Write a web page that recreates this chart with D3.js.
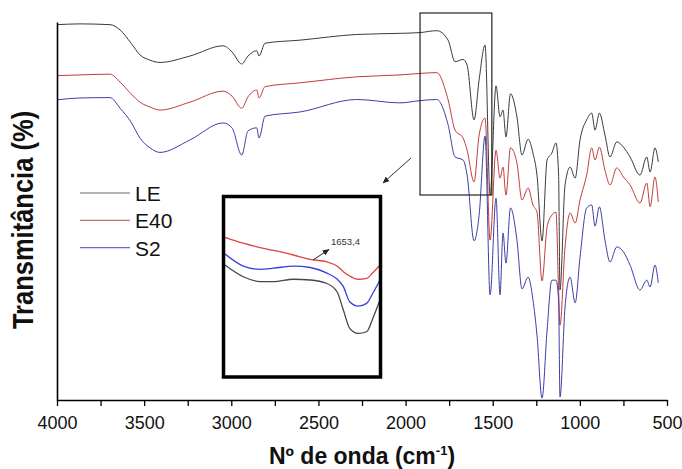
<!DOCTYPE html>
<html>
<head>
<meta charset="utf-8">
<script src="https://cdn.jsdelivr.net/npm/d3@7"></script>
<style>
  body { margin: 0; background: #fff; }
  svg { display: block; font-family: "Liberation Sans", Arial, sans-serif; }
</style>
</head>
<body>
<svg id="chart"></svg>
<script>
// ---- data ----
var wavenumber = [4000,3868,3696,3638,3575,3524,3466,3409,3237,3047,2996,2940,2904,2854,2841,2806,2606,2280,2032,1917,1821,1756,1716,1670,1647,1607,1578,1544,1515,1481,1458,1441,1424,1398,1361,1332,1297,1269,1246,1217,1188,1161,1137,1122,1114,1085,1056,1027,999,961,932,913,888,856,827,788,750,712,655,616,597,569,550];

var LE  = [99.3,99.5,99.3,97.9,94.4,91.3,89.9,89.3,91.0,93.7,92.1,88.9,91.0,92.4,91.0,94.4,95.2,96.7,97.0,97.2,97.7,95.2,89.5,90.1,88.6,74.1,84.7,93.9,54.2,83.1,74.9,76.7,69.6,81.0,74.9,64.8,69.0,65.3,59.5,42.1,63.5,65.3,68.0,59.5,29.1,56.9,61.6,58.7,68.8,74.1,75.9,71.4,75.9,70.1,64.3,68.3,66.9,64.3,59.5,64.3,60.3,66.7,63.0];

var E40 = [85.8,86.0,86.2,84.1,81.0,78.8,77.5,76.7,78.8,81.7,80.4,77.2,80.2,82.0,79.9,82.9,83.9,85.5,86.0,86.4,86.6,79.4,71.4,69.3,66.1,57.7,70.1,74.6,42.3,66.1,58.7,61.6,54.2,66.7,62.7,52.9,56.1,51.6,49.7,31.5,45.8,48.9,49.7,29.1,19.8,40.5,49.5,46.8,52.9,59.5,66.7,63.5,66.9,60.8,56.9,61.4,59.0,56.9,52.1,57.4,51.1,59.0,52.4];

var S2  = [79.4,79.9,80.0,77.2,73.5,69.3,66.7,65.5,68.8,73.3,72.0,64.8,71.2,72.0,69.3,75.1,76.2,79.5,78.6,79.2,79.5,72.8,64.3,63.5,59.5,42.1,48.9,69.8,27.8,53.4,27.8,44.2,36.2,50.8,42.3,29.4,32.5,26.5,17.2,0.5,18.5,31.7,31.7,26.5,0.8,24.6,32.5,25.7,37.8,50.8,51.6,46.0,51.1,42.3,36.5,40.5,39.2,35.7,29.1,31.7,29.9,35.7,31.0];

// zoomed region shown in the inset
var insetWave = [1780,1754,1730,1711,1683,1659,1636,1621,1612,1603,1591,1579,1570,1560];
var insetLE   = [61.9,55.4,52.7,52.7,54.0,53.6,51.8,47.1,37.0,26.9,24.1,25.0,32.6,42.5];
var insetE40  = [77.2,73.9,71.5,69.9,67.4,65.0,63.7,61.3,58.2,55.8,54.0,54.5,57.7,61.9];
var insetS2   = [68.0,61.3,59.5,60.1,61.3,60.5,57.5,54.1,49.9,41.6,39.2,40.7,46.4,53.6];

var seriesNames = ["LE", "E40", "S2"];
var xTickValues = [4000,3750,3500,3250,3000,2750,2500,2250,2000,1750,1500,1250,1000,750,500];
var peakLabel = "1653,4";

// ---- layout ----
var width = 682, height = 469;
var colors = {LE: "#3a3a3a", E40: "#c23b3b", S2: "#3d3da6"};
var insetColors = {LE: "#474747", E40: "#e04343", S2: "#3b3be0"};
var legendColors = {LE: "#9a9a9a", E40: "#d36a6a", S2: "#6a6ab8"};

var svg = d3.select("#chart")
            .attr("width", width)
            .attr("height", height);

var x = d3.scaleLinear().domain([4000, 500]).range([57, 667]);
var y = d3.scaleLinear().domain([0, 100]).range([400, 22]);

var defs = svg.append("defs");
defs.append("marker")
    .attr("id", "arrow")
    .attr("viewBox", "0 0 10 10")
    .attr("refX", 9).attr("refY", 5)
    .attr("markerWidth", 7).attr("markerHeight", 7)
    .attr("markerUnits", "userSpaceOnUse")
    .attr("orient", "auto")
  .append("path")
    .attr("d", "M0,1 L10,5 L0,9 Z")
    .attr("fill", "#222");

// ---- spectra ----
var line = d3.line()
             .x(function(d){ return x(d[0]); })
             .y(function(d){ return y(d[1]); })
             .curve(d3.curveMonotoneX);

var series = {LE: LE, E40: E40, S2: S2};
seriesNames.forEach(function(name){
  svg.append("path")
     .datum(d3.zip(wavenumber, series[name]))
     .attr("fill", "none")
     .attr("stroke", colors[name])
     .attr("stroke-width", 1)
     .attr("d", line);
});

// ---- axes ----
var xAxis = svg.append("g")
   .attr("transform", "translate(0," + y(0) + ")")
   .call(d3.axisBottom(x)
           .tickValues(xTickValues)
           .tickSize(6)
           .tickSizeOuter(0)
           .tickFormat(function(d){ return d % 500 === 0 ? d : ""; }));
xAxis.select(".domain").attr("stroke-width", 1.6);
xAxis.selectAll(".tick line").attr("stroke-width", 1.3);
xAxis.selectAll(".tick text")
     .attr("y", 16)
     .attr("font-size", 18)
     .attr("font-family", "Liberation Sans, Arial, sans-serif")
     .attr("fill", "#111");

var yAxis = svg.append("g")
   .attr("transform", "translate(" + x(4000) + ",0)")
   .call(d3.axisLeft(y).tickValues([]).tickSizeOuter(0));
yAxis.select(".domain").attr("stroke-width", 1.6);

// axis titles
var xTitle = svg.append("text")
   .attr("x", 362).attr("y", 464)
   .attr("text-anchor", "middle")
   .attr("font-size", 23)
   .attr("font-weight", "bold")
   .attr("fill", "#111");
xTitle.append("tspan").text("Nº de onda (cm");
xTitle.append("tspan").attr("font-size", 13).attr("dy", -9).text("-1");
xTitle.append("tspan").attr("dy", 9).text(")");

svg.append("text")
   .attr("transform", "translate(33,220) rotate(-90) scale(0.88,1)")
   .attr("text-anchor", "middle")
   .attr("font-size", 29)
   .attr("font-weight", "bold")
   .attr("fill", "#111")
   .text("Transmitância (%)");

// ---- region marker + arrow ----
svg.append("rect")
   .attr("x", x(1917)).attr("y", 13)
   .attr("width", x(1505) - x(1917)).attr("height", 182)
   .attr("fill", "none")
   .attr("stroke", "#222")
   .attr("stroke-width", 1.2);

svg.append("line")
   .attr("x1", 411).attr("y1", 158)
   .attr("x2", 383).attr("y2", 183)
   .attr("stroke", "#333")
   .attr("stroke-width", 1)
   .attr("marker-end", "url(#arrow)");

// ---- legend ----
var legend = svg.append("g").attr("transform", "translate(80,193)");
var item = legend.selectAll("g")
   .data(seriesNames)
   .enter()
   .append("g")
   .attr("transform", function(d, i){ return "translate(0," + (i * 27.3) + ")"; });
item.append("line")
   .attr("x1", 0).attr("x2", 50)
   .attr("stroke", function(d){ return legendColors[d]; })
   .attr("stroke-width", 1.3);
item.append("text")
   .attr("x", 55).attr("y", 8)
   .attr("font-size", 21)
   .attr("fill", "#111")
   .text(function(d){ return d; });

// ---- inset ----
var ix = d3.scaleLinear().domain([1780, 1560]).range([225, 380]);
var iy = d3.scaleLinear().domain([0, 100]).range([377, 196]);

var inset = svg.append("g");
inset.append("rect")
   .attr("x", 223.5).attr("y", 196.5)
   .attr("width", 157).attr("height", 180.5)
   .attr("fill", "#fff");

var insetLine = d3.line()
   .x(function(d){ return ix(d[0]); })
   .y(function(d){ return iy(d[1]); })
   .curve(d3.curveMonotoneX);

var insetSeries = {LE: insetLE, E40: insetE40, S2: insetS2};
seriesNames.forEach(function(name){
  inset.append("path")
     .datum(d3.zip(insetWave, insetSeries[name]))
     .attr("fill", "none")
     .attr("stroke", insetColors[name])
     .attr("stroke-width", 1.3)
     .attr("d", insetLine);
});

inset.append("line")
   .attr("x1", 313).attr("y1", 260)
   .attr("x2", 329).attr("y2", 249.5)
   .attr("stroke", "#222")
   .attr("stroke-width", 1)
   .attr("marker-end", "url(#arrow)");

inset.append("text")
   .attr("x", 331).attr("y", 245)
   .attr("font-size", 9.5)
   .attr("fill", "#333")
   .text(peakLabel);

inset.append("rect")
   .attr("x", 223.5).attr("y", 196.5)
   .attr("width", 157).attr("height", 180.5)
   .attr("fill", "none")
   .attr("stroke", "#000")
   .attr("stroke-width", 3.5);
</script>
</body>
</html>
